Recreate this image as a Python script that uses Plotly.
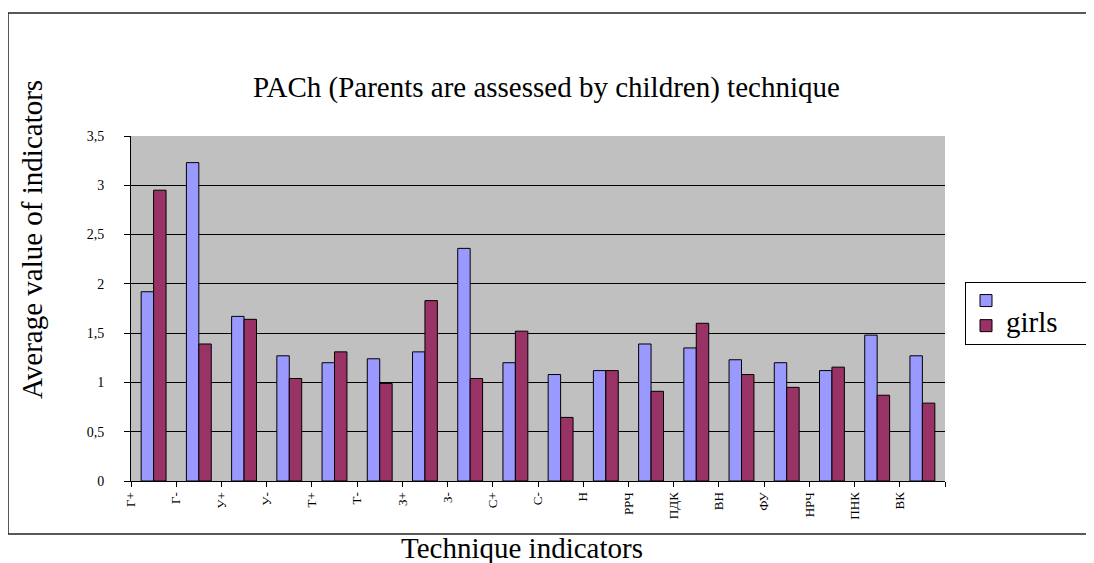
import plotly.graph_objects as go

categories = ["Г+", "Г-", "У+", "У-", "Т+", "Т-", "З+", "З-", "С+", "С-",
              "Н", "РРЧ", "ПДК", "ВН", "ФУ", "НРЧ", "ПНК", "ВК"]
series1_name = " "
series2_name = "girls"
series1 = [1.92, 3.23, 1.67, 1.27, 1.20, 1.24, 1.31, 2.36, 1.20, 1.08,
           1.12, 1.39, 1.35, 1.23, 1.20, 1.12, 1.48, 1.27]
girls = [2.95, 1.39, 1.64, 1.04, 1.31, 0.99, 1.83, 1.04, 1.52, 0.645,
         1.12, 0.91, 1.60, 1.08, 0.95, 1.155, 0.87, 0.79]
y_ticks = [0, 0.5, 1, 1.5, 2, 2.5, 3, 3.5]

idx = list(range(len(categories)))
FONT = "Liberation Serif"
PAD = "&nbsp;" * 6

def legend_label(s):
    return "<span style='font-size:29px'>" + s + "</span>" + PAD

fig = go.Figure()
fig.add_trace(go.Bar(x=idx, y=series1, name=legend_label(series1_name),
                     marker=dict(color="#9999FF", line=dict(color="black", width=1))))
fig.add_trace(go.Bar(x=idx, y=girls, name=legend_label(series2_name),
                     marker=dict(color="#993366", line=dict(color="black", width=1))))

# page has an 8px body margin; work in page coordinates and shift
OFF = 8
W, H = 1094 - OFF, 563 - OFF
L, R, T, B = 131 - OFF, 945 - OFF, 136 - OFF, 481 - OFF
pw, ph = R - L, B - T

def px(x):
    return (x - OFF - L) / pw

def py(y):
    return (B - (y - OFF)) / ph

fig.update_layout(
    width=W, height=H,
    margin=dict(l=L, r=W - R, t=T, b=H - B, autoexpand=False),
    paper_bgcolor="white", plot_bgcolor="#C0C0C0",
    separators=", ",
    barmode="group", bargap=0.45, bargroupgap=0,
    font=dict(family=FONT, color="black"),
    showlegend=True,
    legend=dict(x=px(965), y=py(282), xanchor="left", yanchor="top",
                bordercolor="black", borderwidth=1, bgcolor="white",
                font=dict(family=FONT, size=17), tracegroupgap=0,
                itemwidth=30),
    xaxis=dict(range=[-0.5, len(categories) - 0.5],
               tickmode="array",
               tickvals=[i - 0.5 for i in idx] + [len(categories) - 0.5],
               ticktext=categories + [""],
               tickangle=-90, ticks="outside", ticklen=5, tickcolor="black",
               tickfont=dict(family=FONT, size=13),
               showline=True, linecolor="black", linewidth=1,
               showgrid=False, zeroline=False),
    yaxis=dict(range=[0, 3.5], tickmode="array", tickvals=y_ticks,
               ticks="outside", ticklen=6, tickcolor="black",
               tickfont=dict(family=FONT, size=14), ticklabelstandoff=17,
               showline=True, linecolor="black", linewidth=1,
               showgrid=True, gridcolor="black", gridwidth=1, zeroline=False),
    shapes=[dict(type="rect", xref="paper", yref="paper",
                 x0=px(8), x1=px(1100), y0=py(534), y1=py(13),
                 line=dict(color="#222222", width=1.5), layer="below")],
    annotations=[
        dict(text="PACh (Parents are assessed by children) technique",
             xref="paper", yref="paper", x=px(546), y=py(88),
             xanchor="center", yanchor="middle",
             showarrow=False, font=dict(family=FONT, size=29)),
        dict(text="Average value of indicators", textangle=-90,
             xref="paper", yref="paper", x=px(32), y=py(240),
             xanchor="center", yanchor="middle",
             showarrow=False, font=dict(family=FONT, size=29)),
        dict(text="Technique indicators",
             xref="paper", yref="paper", x=px(522), y=py(548),
             xanchor="center", yanchor="middle",
             showarrow=False, font=dict(family=FONT, size=29)),
    ],
)

fig.write_html("out.html")
